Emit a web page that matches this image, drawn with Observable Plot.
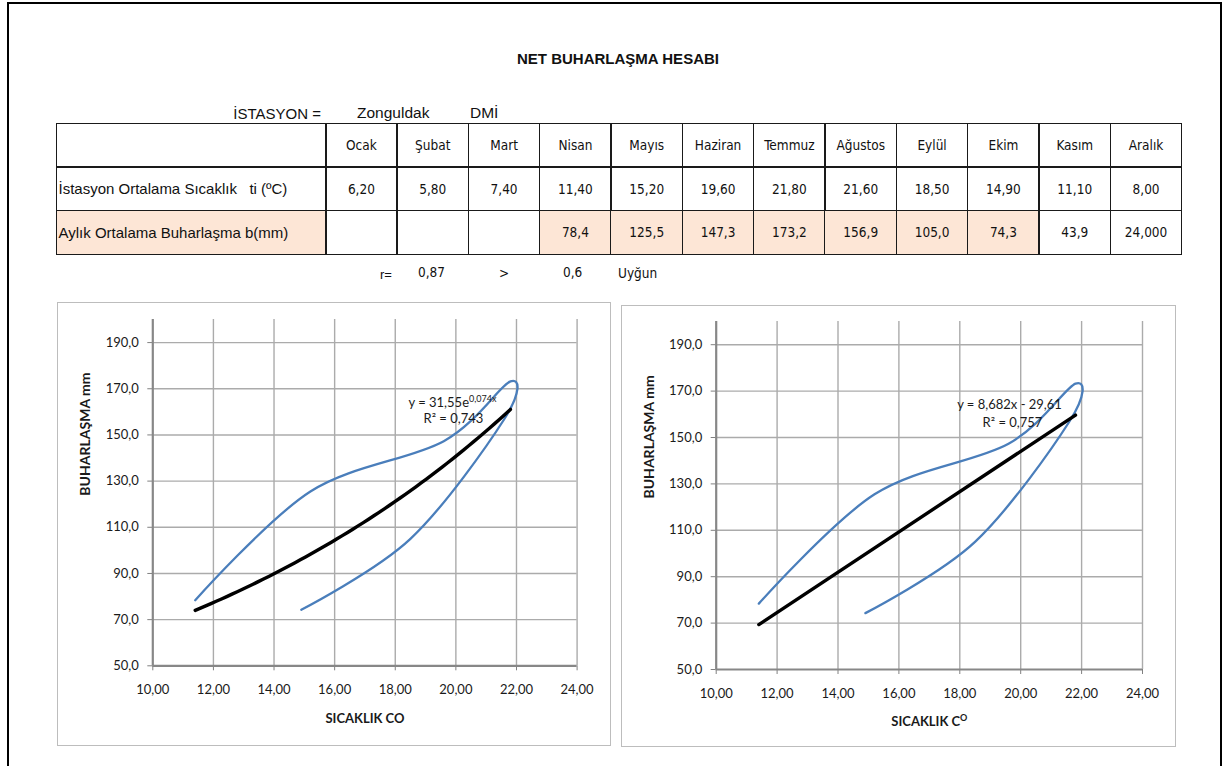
<!DOCTYPE html>
<html>
<head>
<meta charset="utf-8">
<script src="https://cdn.jsdelivr.net/npm/d3@7"></script>
<script src="https://cdn.jsdelivr.net/npm/@observablehq/plot@0.6"></script>
<style>
  body { margin: 0; background: #fff; }
  #page { position: relative; width: 1229px; height: 766px; overflow: hidden; background: #fff;
          font-family: "Liberation Sans", Arial, sans-serif; color: #111; }
  .abs { position: absolute; white-space: pre; line-height: 1; }
  .vc { transform: translateY(-50%); }
  .cc { transform: translate(-50%, -50%); }
  .rc { transform: translate(-100%, -50%); }
  .tah { font-family: "DejaVu Sans Condensed", "DejaVu Sans", sans-serif; font-stretch: condensed; font-size: 13.5px; }
  .cell { position: absolute; box-sizing: border-box; border: 1.5px solid #1a1a1a; display: flex; align-items: center; }
  .panel { position: absolute; box-sizing: border-box; border: 1.5px solid #bdbdbd; pointer-events: none; }
  .chart { position: absolute; }
</style>
</head>
<body>
<div id="page"></div>
<script>
// ---------------- data ----------------
const months = ["Ocak","Şubat","Mart","Nisan","Mayıs","Haziran","Temmuz","Ağustos","Eylül","Ekim","Kasım","Aralık"];
const temps  = [6.20, 5.80, 7.40, 11.40, 15.20, 19.60, 21.80, 21.60, 18.50, 14.90, 11.10, 8.00];
const evap   = [null, null, null, 78.4, 125.5, 147.3, 173.2, 156.9, 105.0, 74.3, 43.9, 24.0];
const evapDigits = [1,1,1,1,1,1,1,1,1,1,1,3];
const usedMonths = ["Nisan","Mayıs","Haziran","Temmuz","Ağustos","Eylül","Ekim"];
const rowLabels = ["İstasyon Ortalama Sıcaklık   ti (ºC)", "Aylık Ortalama Buharlaşma b(mm)"];
const titleText = "NET BUHARLAŞMA HESABI";
const stationTexts = ["İSTASYON =", "Zonguldak", "DMİ"];
const rTexts = ["r=", "0,87", ">", "0,6", "Uyğun"];
const xTicks = [10, 12, 14, 16, 18, 20, 22, 24];
const yTicks = [50, 70, 90, 110, 130, 150, 170, 190];
const yTitle = "BUHARLAŞMA mm";
const xTitles = [["SICAKLIK CO", ""], ["SICAKLIK C", "O"]];
const fitTexts = [["y = 31,55e", "0,074x", "R² = 0,743"], ["y = 8,682x - 29,61", "", "R² = 0,757"]];

const fmt = (v, d) => v.toFixed(d).replace(".", ",");
const page = document.getElementById("page");
function addText(txt, cls, left, top, style = "") {
  const d = document.createElement("div");
  d.className = "abs " + cls;
  d.style.cssText = `left:${left}px;top:${top}px;${style}`;
  d.textContent = txt;
  page.appendChild(d);
  return d;
}

// page border
const border = document.createElement("div");
border.style.cssText = "position:absolute;left:7px;top:2px;width:1215px;height:820px;box-sizing:border-box;border:2px solid #000;";
page.appendChild(border);

// title & station
addText(titleText, "cc", 618, 58, "font-weight:bold;font-size:15px;");
addText(stationTexts[0], "rc", 321, 113, "font-size:15px;");
addText(stationTexts[1], "vc", 357, 113, "font-size:15.5px;");
addText(stationTexts[2], "vc", 470, 113, "font-size:15.5px;");

// ---------------- table ----------------
const tLeft = 55.5, tFirst = 325, tRight = 1181;
const colW = (tRight - tFirst) / 12;
const rowTops = [122.7, 166.3, 210, 253.3];
function cell(x, y, w, h, txt, opts = {}) {
  const d = document.createElement("div");
  d.className = "cell" + (opts.cls ? " " + opts.cls : "");
  d.style.left = x + "px"; d.style.top = y + "px";
  d.style.width = (w + 1.5) + "px"; d.style.height = (h + 1.5) + "px";
  d.style.justifyContent = opts.align || "center";
  if (opts.bg) d.style.background = opts.bg;
  if (opts.pad) d.style.paddingLeft = opts.pad + "px";
  d.style.whiteSpace = "pre";
  if (opts.font) d.style.cssText += opts.font;
  d.textContent = txt;
  page.appendChild(d);
}
const pink = "#fde6d6";
const rowH = i => rowTops[i + 1] - rowTops[i];
// header row
cell(tLeft, rowTops[0], tFirst - tLeft, rowH(0), "");
months.forEach((m, i) => cell(tFirst + i * colW, rowTops[0], colW, rowH(0), m, {cls: "tah"}));
// temperature row
cell(tLeft, rowTops[1], tFirst - tLeft, rowH(1), rowLabels[0], {align: "flex-start", pad: 2, font: "font-size:15px;"});
temps.forEach((t, i) => cell(tFirst + i * colW, rowTops[1], colW, rowH(1), fmt(t, 2), {cls: "tah"}));
// evaporation row
cell(tLeft, rowTops[2], tFirst - tLeft, rowH(2), rowLabels[1], {align: "flex-start", pad: 2, bg: pink, font: "font-size:15px;"});
evap.forEach((v, i) => cell(tFirst + i * colW, rowTops[2], colW, rowH(2), v == null ? "" : fmt(v, evapDigits[i]),
  {cls: "tah", bg: usedMonths.includes(months[i]) ? pink : null}));

// r line
addText(rTexts[0], "vc", 380, 274, "font-size:13px;");
addText(rTexts[1], "vc tah", 418, 273);
addText(rTexts[2], "vc tah", 499, 274);
addText(rTexts[3], "vc tah", 563, 273);
addText(rTexts[4], "vc tah", 618, 274);

// ---------------- charts ----------------
const pts = usedMonths.map(m => { const i = months.indexOf(m); return {t: temps[i], b: evap[i], m}; });
const tMin = d3.min(pts, d => d.t), tMax = d3.max(pts, d => d.t);

// least squares fits computed from the data
function linFit(xs, ys) {
  const mx = d3.mean(xs), my = d3.mean(ys);
  const sxy = d3.sum(xs, (x, i) => (x - mx) * (ys[i] - my));
  const sxx = d3.sum(xs, x => (x - mx) ** 2);
  const s = sxy / sxx; return {s, i: my - s * mx};
}
const lf = linFit(pts.map(d => d.t), pts.map(d => d.b));
const ef = linFit(pts.map(d => d.t), pts.map(d => Math.log(d.b)));
const expA = Math.exp(ef.i), expB = ef.s;
const expFn = x => expA * Math.exp(expB * x);
const linFn = x => lf.s * x + lf.i;
const expCurve = d3.range(0, 61).map(k => { const t = tMin + (tMax - tMin) * k / 60; return {t, b: expFn(t)}; });

function makeChart(cfg) {
  const {w, h, ml, mt, mr, mb, kind, xt, ft, fdx, fdy} = cfg;
  const trendEnd = {t: tMax, b: kind === "exp" ? expFn(tMax) : linFn(tMax)};
  const marks = [
    Plot.ruleY(yTicks.filter(v => v > 50), {y: d => d, stroke: "#ababab", strokeWidth: 1.4}),
    Plot.ruleX(xTicks.filter(v => v > 10), {x: d => d, stroke: "#ababab", strokeWidth: 1.4}),
    Plot.ruleX([xTicks[0]], {x: d => d, stroke: "#878787", strokeWidth: 2.2}),
    Plot.ruleY([yTicks[0]], {y: d => d, stroke: "#878787", strokeWidth: 2.2}),
    Plot.line(pts, {x: "t", y: "b", curve: "cardinal", stroke: "#4a7ebb", strokeWidth: 2.3, strokeLinejoin: "round"}),
    kind === "exp"
      ? Plot.line(expCurve, {x: "t", y: "b", stroke: "#000", strokeWidth: 3.4, strokeLinecap: "round"})
      : Plot.linearRegressionY(pts, {x: "t", y: "b", stroke: "#000", strokeWidth: 3.4, ci: 0, strokeLinecap: "round"}),
    Plot.text([trendEnd], {x: "t", y: "b", text: () => ft[0], dx: fdx[0], dy: fdy[0], fontSize: 13, fill: "#1a1a1a", textAnchor: "middle"}),
    Plot.text([trendEnd], {x: "t", y: "b", text: () => ft[2], dx: fdx[1], dy: fdy[1], fontSize: 13, fill: "#1a1a1a", textAnchor: "middle"}),
    Plot.text([xt[0]], {frameAnchor: "bottom", text: d => d, dy: 52.7, fontWeight: "bold", fontSize: 13, fill: "#1a1a1a", lineAnchor: "middle"}),
    Plot.text([yTitle], {frameAnchor: "left", text: d => d, rotate: -90, dx: -67, dy: 3, fontWeight: "bold", fontSize: 14, fill: "#1a1a1a", lineAnchor: "middle"})
  ];
  const svg = Plot.plot({
    width: w, height: h, marginLeft: ml, marginTop: mt, marginRight: mr, marginBottom: mb,
    style: {fontFamily: "Lato, 'Liberation Sans', sans-serif", fontSize: "13px", color: "#808080", background: "transparent", overflow: "visible"},
    x: {domain: [10, 24], ticks: xTicks, tickFormat: v => fmt(v, 2), tickSize: 5, tickPadding: 14, label: null},
    y: {domain: [50, 200], ticks: yTicks, tickFormat: v => fmt(v, 1), tickSize: 5, tickPadding: 9, label: null},
    marks
  });
  svg.querySelectorAll("text").forEach(t => { if (!t.getAttribute("font-weight")) t.setAttribute("fill", "#1a1a1a"); });
  const NS = "http://www.w3.org/2000/svg";
  svg.querySelectorAll("text").forEach(t => {
    if (t.textContent === ft[0] && ft[1]) {
      const s = document.createElementNS(NS, "tspan");
      s.setAttribute("dy", "-5"); s.setAttribute("font-size", "9"); s.textContent = ft[1]; t.appendChild(s);
    }
    if (t.textContent === xt[0] && xt[1]) {
      const s = document.createElementNS(NS, "tspan");
      s.setAttribute("dy", "-5"); s.setAttribute("font-size", "9"); s.textContent = xt[1]; t.appendChild(s);
    }
  });
  svg.classList.add("chart");
  svg.style.left = cfg.left + "px"; svg.style.top = cfg.top + "px";
  page.appendChild(svg);
  const p = document.createElement("div");
  p.className = "panel";
  p.style.cssText = `left:${cfg.left}px;top:${cfg.top}px;width:${w}px;height:${h}px;`;
  page.appendChild(p);
}

makeChart({left: 57, top: 302, w: 554, h: 444, ml: 95.3, mt: 17, mr: 34.4, mb: 80.7, kind: "exp",
  xt: xTitles[0], ft: fitTexts[0], fdx: [-58, -57], fdy: [-7, 9]});
makeChart({left: 621, top: 305, w: 555, h: 442, ml: 94.7, mt: 16, mr: 34, mb: 78, kind: "lin",
  xt: xTitles[1], ft: fitTexts[1], fdx: [-66, -63], fdy: [-10, 8]});
</script>
</body>
</html>
